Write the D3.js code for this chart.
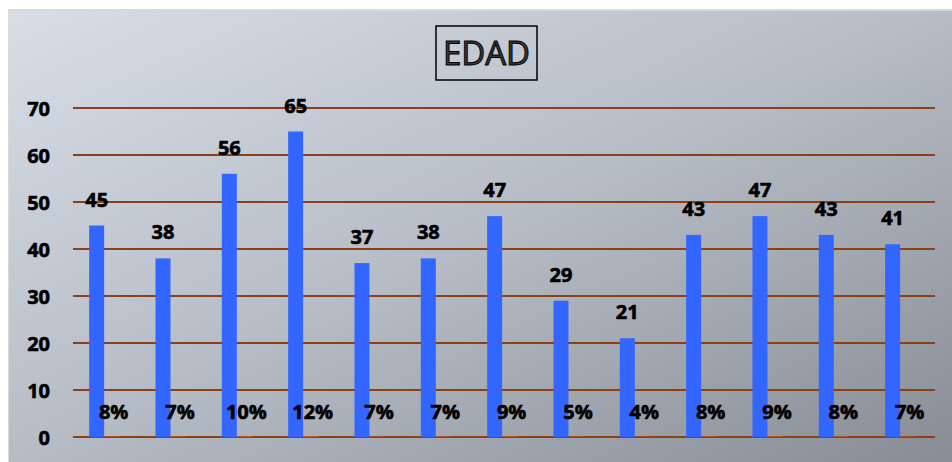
<!DOCTYPE html>
<html><head><meta charset="utf-8">
<script src="https://cdn.jsdelivr.net/npm/d3@7"></script>
<style>html,body{margin:0;padding:0;background:#fff;}svg{display:block;}</style>
</head><body>
<svg id="c" width="952" height="462"></svg>
<script>
const categories = ["1","2","3","4","5","6","7","8","9","10","11","12","13"];
const counts = [45,38,56,65,37,38,47,29,21,43,47,43,41];
const percents = [8,7,10,12,7,7,9,5,4,8,9,8,7];
const yTicks = [0,10,20,30,40,50,60,70];
const title = "EDAD";

const svg = d3.select("#c");
const defs = svg.append("defs");
const g = defs.append("linearGradient").attr("id","bg").attr("x1","0").attr("y1","0").attr("x2","1").attr("y2","1");
g.append("stop").attr("offset","0").attr("stop-color","#d7dee8");
g.append("stop").attr("offset","0.5").attr("stop-color","#b6bcc5");
g.append("stop").attr("offset","1").attr("stop-color","#878c95");

svg.append("rect").attr("x",8).attr("y",9).attr("width",944).attr("height",453).attr("fill","#d9d9d9");
svg.append("rect").attr("x",9).attr("y",11).attr("width",943).attr("height",451).attr("fill","url(#bg)");

const x = d3.scaleBand().domain(categories).range([71,933.3]).padding(0);
const bw = 15;
const x1 = d3.scaleBand().domain(["n","p"]).range([x.bandwidth()/2 - bw, x.bandwidth()/2 + bw]).padding(0);
const y = d3.scaleLinear().domain([0,70]).range([437,108]);

// gridlines
svg.append("g").selectAll("line").data(yTicks).join("line")
  .attr("x1",73).attr("x2",935)
  .attr("y1",d=>y(d)).attr("y2",d=>y(d))
  .attr("stroke","#8e3f14").attr("stroke-width",2);

const bold = sel => sel.attr("font-family","'Open Sans', sans-serif").attr("font-weight","700")
  .attr("font-size","20px").attr("fill","#000").attr("stroke","#000").attr("stroke-width",0.6);

// y labels
const yAxis = d3.axisLeft(y).tickValues(yTicks).tickSize(0).tickPadding(0);
const ya = svg.append("g").attr("transform","translate(50,0)").call(yAxis);
ya.select(".domain").remove();
ya.selectAll("text").call(bold).attr("dy","0.35em");

// bars
svg.append("g").selectAll("rect").data(counts).join("rect")
  .attr("x",(d,i)=>x(categories[i]) + x1("n"))
  .attr("y",d=>y(d)).attr("width",x1.bandwidth()).attr("height",d=>y(0)-y(d))
  .attr("fill","#3366ff");
svg.append("g").selectAll("rect").data(percents).join("rect")
  .attr("x",(d,i)=>x(categories[i]) + x1("p"))
  .attr("y",d=>y(d/100)).attr("width",x1.bandwidth()).attr("height",d=>y(0)-y(d/100))
  .attr("fill","#e07a3a");

// value labels
svg.append("g").selectAll("text").data(counts).join("text")
  .attr("x",(d,i)=>x(categories[i]) + x1("n") + x1.bandwidth()/2)
  .attr("y",d=>y(d)-19)
  .attr("text-anchor","middle")
  .call(bold).text(d=>d);

// percent labels
svg.append("g").selectAll("text").data(percents).join("text")
  .attr("x",(d,i)=>x(categories[i]) + x1("p") + x1.bandwidth()/2 + 2)
  .attr("y",419)
  .attr("text-anchor","middle")
  .call(bold).text(d=>d+"%");

// title
svg.append("rect").attr("x",436).attr("y",26).attr("width",101).attr("height",54)
  .attr("fill","none").attr("stroke","#000").attr("stroke-width",1.5);
svg.append("text").attr("x",486.5).attr("y",65).attr("text-anchor","middle")
  .attr("font-family","'Open Sans', sans-serif").attr("font-size","33px")
  .attr("fill","#3a3a3a").attr("stroke","#000").attr("stroke-width",1).text(title);
</script>
</body></html>
